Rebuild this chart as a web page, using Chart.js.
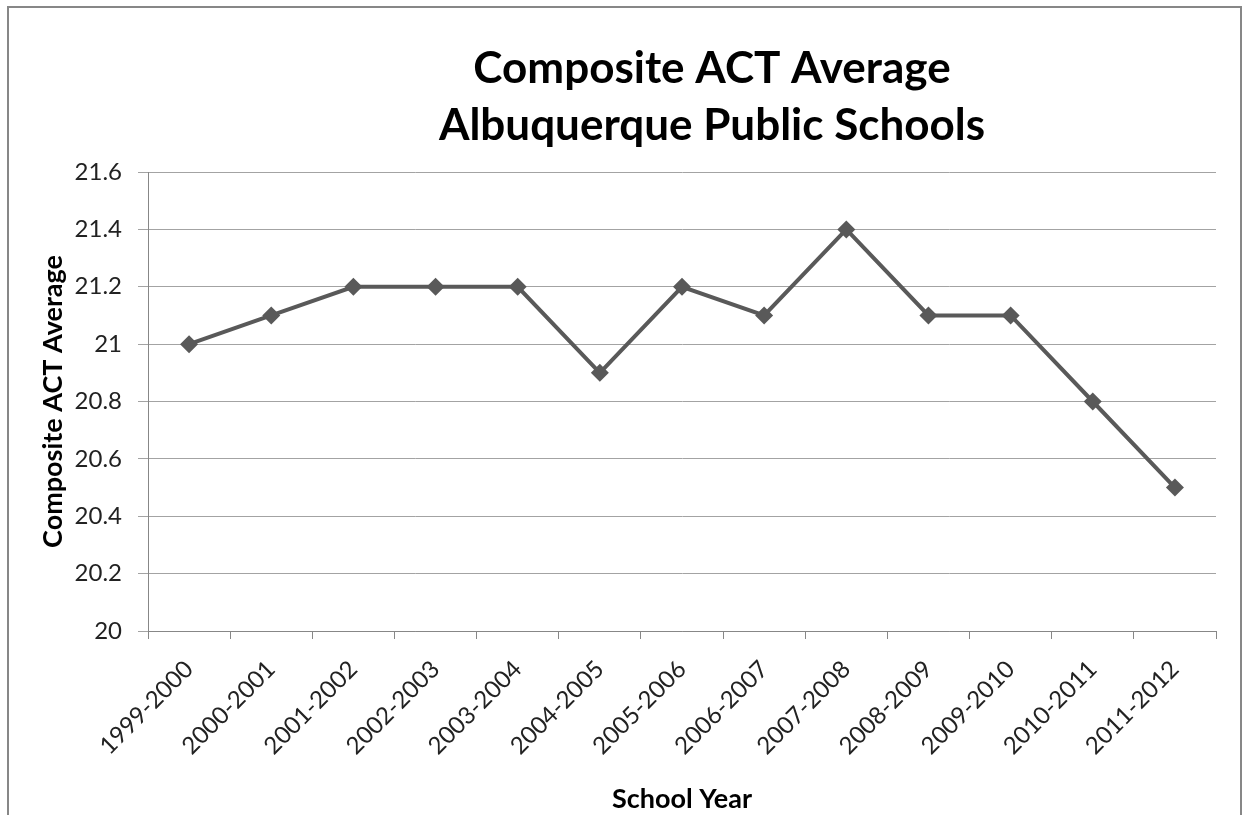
<!DOCTYPE html>
<html>
<head>
<meta charset="utf-8">
<script src="https://cdn.jsdelivr.net/npm/chart.js@4.4.1/dist/chart.umd.min.js"></script>
<style>
  html, body { margin: 0; padding: 0; background: #fff; overflow: hidden; }
  #frame { position: absolute; left: 7px; top: 6px; width: 1231px; height: 900px; border: 2px solid #878787; }
  #wrap { position: absolute; left: 0; top: 0; width: 1243px; height: 815px; }
</style>
</head>
<body>
<div id="frame"></div>
<div id="wrap"><canvas id="actChart" width="1243" height="815"></canvas></div>
<script>
const schoolYears = ['1999-2000', '2000-2001', '2001-2002', '2002-2003', '2003-2004', '2004-2005', '2005-2006',
    '2006-2007', '2007-2008', '2008-2009', '2009-2010', '2010-2011', '2011-2012'];
const actAverages = [21.0, 21.1, 21.2, 21.2, 21.2, 20.9, 21.2, 21.1, 21.4, 21.1, 21.1, 20.8, 20.5];
const titleLines = ['Composite ACT Average', 'Albuquerque Public Schools'];

const FONT = 'Lato, "Open Sans", sans-serif';

// Draw the two-line title centred a bit right of the page middle, like the original
const titlePlugin = {
    id: 'twoLineTitle',
    afterDraw(chart) {
        const ctx = chart.ctx;
        ctx.save();
        ctx.fillStyle = '#000';
        ctx.font = 'bold 44px ' + FONT;
        ctx.textAlign = 'center';
        ctx.textBaseline = 'middle';
        ctx.fillText(titleLines[0], 712, 69);
        ctx.fillText(titleLines[1], 712, 126);
        ctx.restore();
    }
};

new Chart(document.getElementById('actChart').getContext('2d'), {
    type: 'line',
    data: {
        labels: schoolYears,
        datasets: [{
            label: 'Composite ACT Average',
            data: actAverages,
            borderColor: '#595959',
            backgroundColor: '#595959',
            borderWidth: 4,
            pointStyle: 'rectRot',
            pointRadius: 9,
            pointBackgroundColor: '#595959',
            pointBorderWidth: 0,
            tension: 0
        }]
    },
    options: {
        responsive: false,
        animation: false,
        layout: { padding: { top: 172, right: 27, left: 0, bottom: 0 } },
        plugins: { legend: { display: false }, tooltip: { enabled: false } },
        scales: {
            x: {
                offset: true,
                grid: { offset: true, drawOnChartArea: false, color: '#878787', tickLength: 8, lineWidth: 1 },
                border: { color: '#878787', width: 1 },
                ticks: { color: '#222', font: { family: FONT, size: 24 }, minRotation: 45, maxRotation: 45, padding: 16, autoSkip: false },
                title: { display: true, text: 'School Year', color: '#000', font: { family: FONT, size: 27, weight: 'bold' }, padding: { top: 4, bottom: 0 } },
                afterFit(scale) { scale.height = 184; }
            },
            y: {
                min: 20,
                max: 21.6,
                ticks: {
                    stepSize: 0.2,
                    color: '#222',
                    font: { family: FONT, size: 24 },
                    padding: 16,
                    callback: v => Math.round(v * 10) / 10
                },
                grid: { color: '#a3a3a3', tickLength: 10, lineWidth: 1 },
                border: { color: '#878787', width: 1 },
                title: { display: true, text: 'Composite ACT Average', color: '#000', font: { family: FONT, size: 27, weight: 'bold' }, padding: { top: 37, bottom: 4 } },
                afterFit(scale) { scale.width = 148; }
            }
        }
    },
    plugins: [titlePlugin]
});
</script>
</body>
</html>
